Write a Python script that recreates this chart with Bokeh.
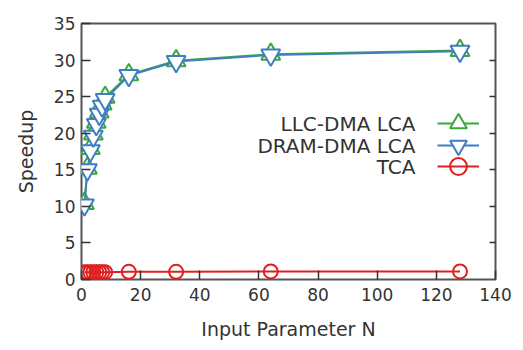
from bokeh.plotting import figure
from bokeh.models import LinearAxis, Legend, LegendItem, Label, FixedTicker, Range1d
from bokeh.embed import file_html
from bokeh.resources import INLINE

# ---- data ----
n_values = [1, 2, 3, 4, 5, 6, 7, 8, 16, 32, 64, 128]
llc_dma_lca = [10.4, 15.2, 17.9, 19.9, 21.5, 22.9, 24.0, 24.9, 28.0, 29.9, 30.8, 31.3]
dram_dma_lca = [10.2, 15.0, 17.6, 19.6, 21.2, 22.6, 23.7, 24.6, 27.9, 29.8, 30.7, 31.2]
tca = [1.0, 1.0, 1.0, 1.0, 1.0, 1.0, 1.0, 1.0, 1.05, 1.05, 1.1, 1.1]
series_names = ["LLC-DMA LCA", "DRAM-DMA LCA", "TCA"]
x_ticks = [0, 20, 40, 60, 80, 100, 120, 140]
y_ticks = [0, 5, 10, 15, 20, 25, 30, 35]

FONT = "DejaVu Sans"
GREEN = "#3ca83c"
BLUE = "#3f7fc0"
RED = "#e02020"

p = figure(width=523, height=350, output_backend="svg", toolbar_location=None,
           x_range=Range1d(0, 140), y_range=Range1d(0, 35),
           min_border_left=81, min_border_right=28, min_border_top=23, min_border_bottom=71)
p.background_fill_color = "white"
p.border_fill_color = "white"
p.grid.visible = False
p.outline_line_color = "#555555"
p.outline_line_width = 2

for ax in (p.xaxis[0], p.yaxis[0]):
    ax.axis_line_color = None
    ax.major_tick_in = 9
    ax.major_tick_out = 0
    ax.major_tick_line_color = "#333333"
    ax.major_tick_line_width = 1.5
    ax.minor_tick_line_color = None
    ax.major_label_text_font = FONT
    ax.major_label_text_font_size = "17px"
    ax.major_label_text_color = "#333333"
    ax.axis_label_text_font = FONT
    ax.axis_label_text_font_size = "19px"
    ax.axis_label_text_font_style = "normal"
    ax.axis_label_text_color = "#333333"

p.xaxis[0].ticker = FixedTicker(ticks=x_ticks)
p.yaxis[0].ticker = FixedTicker(ticks=y_ticks)
p.xaxis[0].axis_label = "Input Parameter N"
p.yaxis[0].axis_label = "Speedup"
p.xaxis[0].major_label_standoff = 8
p.yaxis[0].major_label_standoff = 6
p.xaxis[0].axis_label_standoff = 14
p.yaxis[0].axis_label_standoff = 14

right = LinearAxis(ticker=FixedTicker(ticks=[5, 10, 15, 20, 25, 30]))
right.axis_line_color = None
right.major_tick_in = 6
right.major_tick_out = 0
right.major_tick_line_color = "#333333"
right.major_tick_line_width = 1.5
right.minor_tick_line_color = None
right.major_label_text_font_size = "0px"
right.major_label_text_color = None
p.add_layout(right, "right")

# TCA
l_tca = p.line(n_values, tca, line_color=RED, line_width=2)
s_tca = p.scatter(n_values, tca, marker="circle", size=14, line_color=RED, line_width=2,
                  fill_color=None)
# LLC
l_llc = p.line(n_values, llc_dma_lca, line_color=GREEN, line_width=2)
s_llc = p.scatter(n_values, llc_dma_lca, marker="triangle", size=19, line_color=GREEN, line_width=2,
                  fill_color="white")
# DRAM
l_dram = p.line(n_values, dram_dma_lca, line_color=BLUE, line_width=2)
s_dram = p.scatter(n_values, dram_dma_lca, marker="inverted_triangle", size=19, line_color=BLUE,
                   line_width=2, fill_color="white")

renderer_pairs = [(l_llc, s_llc), (l_dram, s_dram), (l_tca, s_tca)]
label_y = [156, 134, 113]
GW = 42
for name, ly, rs in zip(series_names, label_y, renderer_pairs):
    leg = Legend(items=[LegendItem(label=" ", renderers=list(rs))],
                 location=(377 - GW / 2, ly - GW / 2), padding=0, margin=0, spacing=0,
                 glyph_width=GW, glyph_height=GW, label_width=0, label_height=0,
                 label_standoff=0, border_line_color=None, background_fill_alpha=0,
                 label_text_font_size="1px")
    p.add_layout(leg, "center")
    p.add_layout(Label(x=334, y=ly, x_units="screen", y_units="screen", text=name,
                       text_align="right", text_baseline="middle", text_font=FONT,
                       text_font_size="20px", text_color="#333333"))

open("out.html", "w").write(file_html(p, INLINE))
